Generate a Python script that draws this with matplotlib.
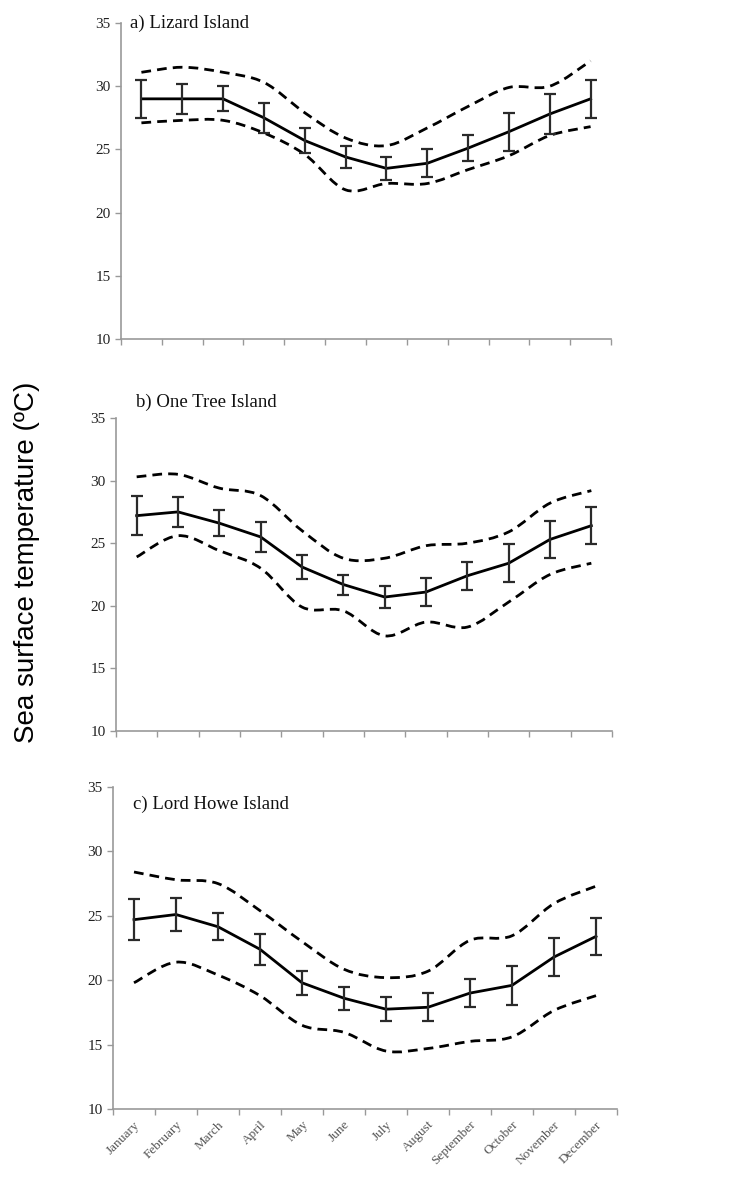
import matplotlib
matplotlib.use("Agg")
import matplotlib.pyplot as plt
from matplotlib.path import Path
from matplotlib.patches import PathPatch
import numpy as np

months = ["January", "February", "March", "April", "May", "June", "July",
          "August", "September", "October", "November", "December"]

# a) Lizard Island
lizard_mean = [29.0, 29.0, 29.0, 27.5, 25.7, 24.4, 23.5, 23.9, 25.1, 26.4, 27.8, 29.0]
lizard_err = [1.5, 1.2, 1.0, 1.2, 1.0, 0.9, 0.9, 1.1, 1.05, 1.5, 1.6, 1.5]
lizard_max = [31.1, 31.5, 31.1, 30.3, 27.9, 25.9, 25.3, 26.7, 28.4, 29.9, 30.0, 32.0]
lizard_min = [27.1, 27.3, 27.3, 26.3, 24.6, 21.8, 22.3, 22.3, 23.4, 24.5, 26.1, 26.8]

# b) One Tree Island
onetree_mean = [27.2, 27.5, 26.6, 25.5, 23.1, 21.7, 20.7, 21.1, 22.4, 23.4, 25.3, 26.4]
onetree_err = [1.55, 1.2, 1.05, 1.2, 0.95, 0.8, 0.9, 1.1, 1.1, 1.5, 1.5, 1.5]
onetree_max = [30.3, 30.5, 29.4, 28.8, 26.0, 23.8, 23.8, 24.8, 25.0, 25.9, 28.2, 29.2]
onetree_min = [23.9, 25.6, 24.4, 23.0, 19.9, 19.6, 17.6, 18.7, 18.3, 20.3, 22.5, 23.4]

# c) Lord Howe Island
lordhowe_mean = [24.7, 25.1, 24.15, 22.4, 19.8, 18.6, 17.75, 17.9, 19.0, 19.6, 21.8, 23.4]
lordhowe_err = [1.6, 1.25, 1.05, 1.2, 0.95, 0.9, 0.95, 1.1, 1.1, 1.5, 1.5, 1.45]
lordhowe_max = [28.4, 27.8, 27.5, 25.4, 23.0, 20.85, 20.2, 20.7, 23.1, 23.45, 25.95, 27.3]
lordhowe_min = [19.8, 21.4, 20.4, 18.8, 16.5, 15.95, 14.5, 14.7, 15.25, 15.6, 17.65, 18.8]

titles = ["a) Lizard Island", "b) One Tree Island", "c) Lord Howe Island"]

serif = ["Liberation Serif", "DejaVu Serif"]


def smooth_path(x, y):
    # cubic bezier through the points (like a spreadsheet "smoothed line")
    pts = np.column_stack([x, y]).astype(float)
    n = len(pts)
    verts = [pts[0]]
    codes = [Path.MOVETO]
    for i in range(n - 1):
        p0 = pts[max(i - 1, 0)]
        p1 = pts[i]
        p2 = pts[i + 1]
        p3 = pts[min(i + 2, n - 1)]
        verts += [p1 + (p2 - p0) / 6, p2 - (p3 - p1) / 6, p2]
        codes += [Path.CURVE4] * 3
    return Path(verts, codes)


fig = plt.figure(figsize=(7.39, 11.82), dpi=100)
boxes = [
    [121 / 739, 1 - 339 / 1182, 490 / 739, 316 / 1182],
    [116 / 739, 1 - 731 / 1182, 496 / 739, 313 / 1182],
    [113 / 739, 1 - 1109 / 1182, 504 / 739, 322 / 1182],
]
panels = [
    (lizard_mean, lizard_err, lizard_max, lizard_min),
    (onetree_mean, onetree_err, onetree_max, onetree_min),
    (lordhowe_mean, lordhowe_err, lordhowe_max, lordhowe_min),
]
title_pos = [(0.018, 1.0), (0.04, 1.05), (0.04, 0.945)]

x = np.arange(len(months))
for k, (mean, err, hi, lo) in enumerate(panels):
    ax = fig.add_axes(boxes[k])
    for series in (hi, lo):
        ax.add_patch(PathPatch(smooth_path(x, series), fill=False, edgecolor="black",
                               lw=2.0, linestyle=(0, (3.5, 2.2)), capstyle="butt"))
    ax.plot(x, mean, color="black", lw=2.0)
    ax.errorbar(x, mean, yerr=err, fmt="none", ecolor="#2a2a2a", elinewidth=1.6,
                capsize=4, capthick=1.6)

    ax.set_xlim(-0.5, len(months) - 0.5)
    ax.set_ylim(10, 35)
    ax.set_yticks([10, 15, 20, 25, 30, 35])
    ax.set_xticks(np.arange(-0.5, len(months), 1.0))
    ax.set_xticklabels([])
    ax.set_xticks(x, minor=True)
    if k == 2:
        ax.set_xticklabels(months, minor=True, rotation=45, ha="right",
                           rotation_mode="anchor", fontsize=9.5, color="#555555",
                           family=serif)
    ax.tick_params(axis="x", which="minor", length=0, pad=7)
    ax.tick_params(axis="both", which="major", length=4, width=1, color="#999999",
                   labelsize=11, labelcolor="#222222")
    for lab in ax.get_yticklabels():
        lab.set_family(serif)
    for s in ("top", "right"):
        ax.spines[s].set_visible(False)
    for s in ("left", "bottom"):
        ax.spines[s].set_color("#999999")
        ax.spines[s].set_linewidth(1.2)

    ax.text(title_pos[k][0], title_pos[k][1], titles[k], transform=ax.transAxes,
            fontsize=13.5, family=serif, va="center", ha="left", color="#111111")

fig.text(0.0365, 0.524, "Sea surface temperature (ºC)", rotation=90, va="center",
         ha="center", fontsize=20, family=["Liberation Sans", "DejaVu Sans"])

fig.savefig("out.png", dpi=100)
